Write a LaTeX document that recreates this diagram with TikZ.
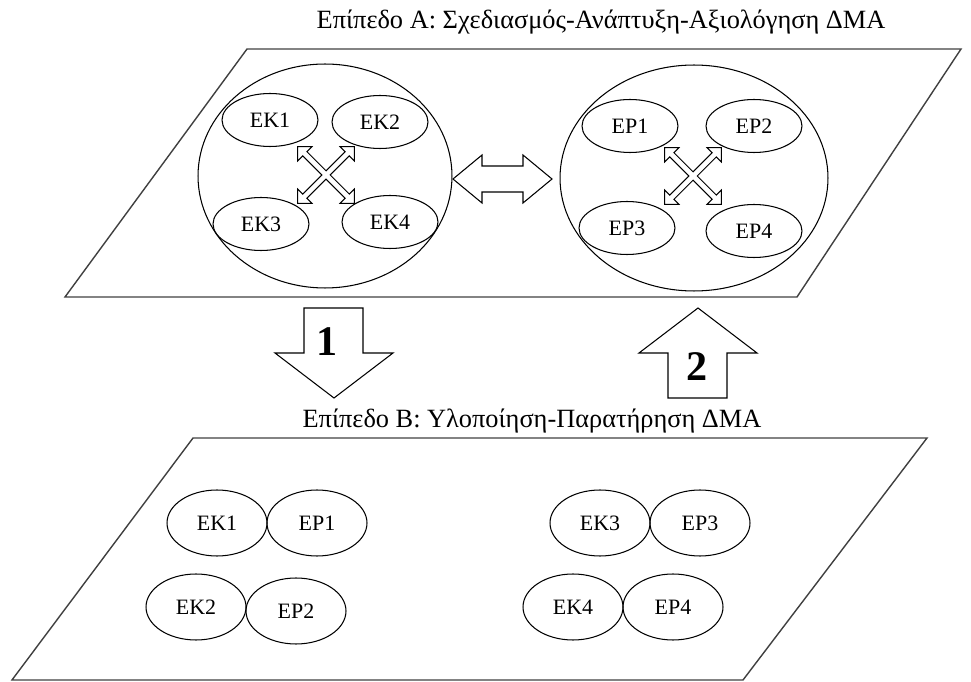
\documentclass[tikz,border=0pt]{standalone}
\usepackage{fontspec}
\setmainfont{Liberation Serif}
\usetikzlibrary{shapes.geometric}

\begin{document}
\begin{tikzpicture}[x=0.02cm, y=-0.02cm,
    plane/.style={draw=black!75, line width=0.8pt},
    group/.style={draw, ellipse, line width=0.6pt, inner sep=0pt},
    member/.style={draw, ellipse, line width=0.6pt, inner sep=0pt, minimum width=1.92cm, minimum height=1.06cm, font=\fontsize{12.5}{14}\selectfont},
    pair/.style={member, minimum width=2cm, minimum height=1.32cm},
    block/.style={draw, line width=0.6pt, line join=miter, fill=white},
    levelfont/.style={font=\fontsize{15}{17}\selectfont},
    numfont/.style={font=\bfseries\fontsize{24}{26}\selectfont}
]
    \useasboundingbox (0,0) rectangle (971,682);

    \coordinate (A1) at (247,49);
    \coordinate (A2) at (961,49);
    \coordinate (A3) at (797,297);
    \coordinate (A4) at (65,297);
    \coordinate (B1) at (193,438);
    \coordinate (B2) at (927,438);
    \coordinate (B3) at (743,680);
    \coordinate (B4) at (12,680);

    % Level A
    \draw[plane] (A1) -- (A2) -- (A3) -- (A4) -- cycle;
    \node[levelfont] (levelA) at (601,22) {Επίπεδο Α: Σχεδιασμός-Ανάπτυξη-Αξιολόγηση ΔΜΑ};

    \node[group, minimum width=5.08cm, minimum height=4.48cm] (EKgroup) at (325,176) {};
    \node[group, minimum width=5.36cm, minimum height=4.52cm] (EPgroup) at (694,178) {};

    \node[member] (EK1) at (270,120) {EK1};
    \node[member] (EK2) at (380,122) {EK2};
    \node[member] (EK3) at (261,224) {EK3};
    \node[member] (EK4) at (390,222) {EK4};

    \node[member] (EP1) at (630,126) {EP1};
    \node[member] (EP2) at (754,126) {EP2};
    \node[member] (EP3) at (627,228) {EP3};
    \node[member] (EP4) at (754,231) {EP4};

    % Cross arrows
    \foreach \cx/\cy in {326/175, 693/176} {
        \begin{scope}[shift={(\cx,\cy)}, rotate=45]
            \draw[block] (3,-3) -- (30,-3) -- (30,-10) -- (40,0) -- (30,10) -- (30,3)
                -- (3,3) -- (3,30) -- (10,30) -- (0,40) -- (-10,30) -- (-3,30)
                -- (-3,3) -- (-30,3) -- (-30,10) -- (-40,0) -- (-30,-10) -- (-30,-3)
                -- (-3,-3) -- (-3,-30) -- (-10,-30) -- (0,-40) -- (10,-30) -- (3,-30) -- cycle;
        \end{scope}
    }

    % Double arrow between groups
    \draw[block] (453,179) -- (482,155) -- (482,166) -- (523,166) -- (523,155) -- (552,179)
        -- (523,203) -- (523,192) -- (482,192) -- (482,203) -- cycle;

    % Arrow 1 (down)
    \draw[block] (304,308) -- (363,308) -- (363,353) -- (393,353) -- (334,398) -- (275,353) -- (304,353) -- cycle;
    \node[numfont] (stepone) at (327,342) {1};

    % Arrow 2 (up)
    \draw[block] (698,308) -- (757,353) -- (727,353) -- (727,398) -- (668,398) -- (668,353) -- (639,353) -- cycle;
    \node[numfont] (steptwo) at (697,367) {2};

    % Level B
    \node[levelfont] (levelB) at (532,421) {Επίπεδο Β: Υλοποίηση-Παρατήρηση ΔΜΑ};
    \draw[plane] (B1) -- (B2) -- (B3) -- (B4) -- cycle;

    \node[pair] (EK1b) at (217,523) {EK1};
    \node[pair] (EP1b) at (317,523) {EP1};
    \node[pair] (EK2b) at (196,607) {EK2};
    \node[pair] (EP2b) at (296,611) {EP2};

    \node[pair] (EK3b) at (600,523) {EK3};
    \node[pair] (EP3b) at (700,523) {EP3};
    \node[pair] (EK4b) at (573,607) {EK4};
    \node[pair] (EP4b) at (673,607) {EP4};

\end{tikzpicture}
\end{document}
